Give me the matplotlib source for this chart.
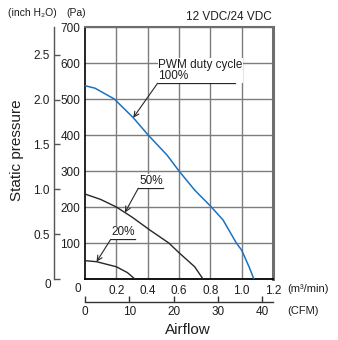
import numpy as np
import matplotlib
matplotlib.use("Agg")
import matplotlib.pyplot as plt

plt.rcParams['font.family'] = ['Liberation Sans', 'DejaVu Sans']

# airflow (m3/min) vs static pressure (Pa)
q100 = [0, 0.064, 0.187, 0.308, 0.403, 0.524, 0.6, 0.70, 0.8, 0.881, 0.966, 1.0, 1.047, 1.078]
p100 = [537, 530, 500, 448, 400, 344, 300, 247, 203, 164, 100, 80, 34, 0]
q50 = [0, 0.1, 0.2, 0.3, 0.414, 0.535, 0.6, 0.7, 0.753]
p50 = [236, 221, 200, 172, 136, 100, 73, 34, 0]
q20 = [0, 0.074, 0.2, 0.27, 0.318]
p20 = [51, 48, 34, 18, 0]

pa_ticks = [100, 200, 300, 400, 500, 600, 700]
inch_ticks = [0, 0.5, 1.0, 1.5, 2.0, 2.5]
m3_ticks = [0.2, 0.4, 0.6, 0.8, 1.0, 1.2]
cfm_ticks = [0, 10, 20, 30, 40]

PA_PER_INCH = 249.089
CFM_PER_M3 = 35.3147

W, H = 338, 340
txt = '#1e1e1e'
blue = '#1b72c2'
dark = '#2b2526'
grid = '#7d7d7d'
tsize = 8.5


def fx(x):
    return x / W


def fy(y):
    return 1 - y / H


fig = plt.figure(figsize=(W / 100, H / 100), dpi=100)
ax = fig.add_axes([fx(85), fy(279), (273 - 85) / W, (279 - 27) / H])
ax.set_xlim(0, 1.2)
ax.set_ylim(0, 700)

ax.set_xticks(m3_ticks)
ax.set_xticklabels([f"{v:.1f}" for v in m3_ticks])
ax.set_yticks(pa_ticks)
ax.set_yticklabels([str(v) for v in pa_ticks])
ax.tick_params(axis='both', length=0, labelsize=tsize, colors=txt)
ax.tick_params(axis='x', pad=4.5)
ax.tick_params(axis='y', pad=3.5)
ax.grid(True, color=grid, lw=1)
ax.set_axisbelow(True)

ax.spines['left'].set_color('black')
ax.spines['left'].set_linewidth(1.2)
ax.spines['bottom'].set_color('black')
ax.spines['bottom'].set_linewidth(1.3)
ax.spines['top'].set_color('#6e6e6e')
ax.spines['top'].set_linewidth(1.5)
ax.spines['right'].set_color('#6e6e6e')
ax.spines['right'].set_linewidth(2.2)

ax.plot(q100, p100, color=blue, lw=1.1, zorder=3)
ax.plot(q50, p50, color=dark, lw=1.0, zorder=3)
ax.plot(q20, p20, color=dark, lw=1.0, zorder=3)

# duty cycle labels with underline and arrow to the curve
labels = [
    ("PWM duty cycle\n100%", 0.463, 0.955, 543.6, 0.308, q100, p100),
    ("50%", 0.340, 0.500, 252, 0.255, q50, p50),
    ("20%", 0.164, 0.318, 110, 0.074, q20, p20),
]
for text, x0, x1, yl, qt, qs, ps in labels:
    ax.plot([x0, x1], [yl, yl], color=dark, lw=0.9, zorder=4)
    ax.text(x0 + 0.005, yl + 3, text, fontsize=8.5, color=txt, ha='left', va='bottom',
            linespacing=0.95, zorder=4,
            bbox=dict(facecolor='white', edgecolor='none', pad=0.5))
    ax.annotate('', xy=(qt, np.interp(qt, qs, ps)), xytext=(x0, yl),
                arrowprops=dict(arrowstyle='->', color=dark, lw=0.8,
                                shrinkA=0, shrinkB=0, mutation_scale=9), zorder=4)

# inch H2O axis
ax2 = ax.twinx()
ax2.set_ylim(0, 700 / PA_PER_INCH)
for s in ['top', 'bottom', 'right']:
    ax2.spines[s].set_visible(False)
ax2.spines['left'].set_visible(True)
ax2.spines['left'].set_position(('axes', -(85 - 54) / 188))
ax2.spines['left'].set_color('#555555')
ax2.spines['left'].set_linewidth(1.0)
ax2.yaxis.set_ticks_position('left')
ax2.set_yticks(inch_ticks)
ax2.set_yticklabels([''] + [f"{v:.1f}" for v in inch_ticks[1:]])
ax2.tick_params(axis='y', direction='in', length=4, width=1, colors='#555555',
                labelcolor=txt, labelsize=tsize, pad=3)

# CFM axis
sec = ax.secondary_xaxis(-(301.7 - 279) / 252,
                         functions=(lambda m: m * CFM_PER_M3, lambda c: c / CFM_PER_M3))
sec.set_xticks(cfm_ticks)
sec.set_xticklabels([str(v) for v in cfm_ticks])
sec.tick_params(axis='x', direction='in', length=4, width=1, colors='#333333',
                labelcolor=txt, labelsize=tsize, pad=3)
sec.spines['bottom'].set_color('#333333')
sec.spines['bottom'].set_linewidth(1.0)

fig.text(fx(47.5), fy(285), "0", fontsize=tsize, color=txt, ha='center', va='center')
fig.text(fx(78), fy(289), "0", fontsize=tsize, color=txt, ha='center', va='center')
fig.text(fx(287), fy(289), "(m\u00b3/min)", fontsize=8, color=txt, ha='left', va='center')
fig.text(fx(287), fy(311.5), "(CFM)", fontsize=8, color=txt, ha='left', va='center')
fig.text(fx(8), fy(13), "(inch H\u2082O)", fontsize=7.5, color=txt, ha='left', va='center')
fig.text(fx(66), fy(13), "(Pa)", fontsize=7.5, color=txt, ha='left', va='center')
fig.text(fx(272), fy(17), "12 VDC/24 VDC", fontsize=8.5, color=txt, ha='right', va='center')
fig.text(fx(188), fy(330), "Airflow", fontsize=11, color=txt, ha='center', va='center')
fig.text(fx(17), fy(150), "Static pressure", fontsize=11, color=txt, ha='center',
         va='center', rotation=90)

fig.savefig("out.png", dpi=100)
